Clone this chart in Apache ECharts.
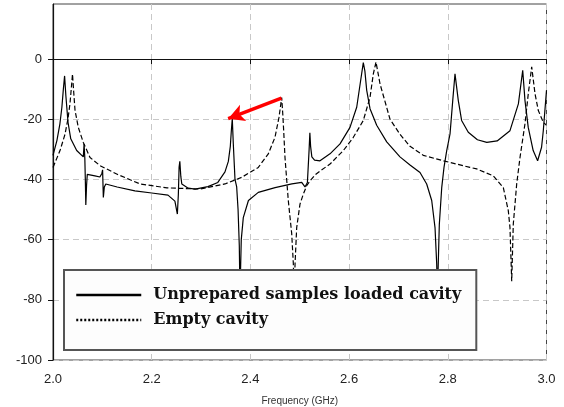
<!DOCTYPE html>
<html>
<head>
<meta charset="utf-8">
<script src="https://cdn.jsdelivr.net/npm/echarts@6/dist/echarts.min.js"></script>
<style>
  html, body { margin: 0; padding: 0; background: #fff; }
  #chart { width: 564px; height: 407px; }
</style>
</head>
<body>
<div id="chart"></div>
<script>
// frequency (GHz), transmission (dB)
var loadedCavity = [
  [2.000, -32], [2.008, -27], [2.014, -21.5], [2.018, -16], [2.021, -10], [2.0235, -5.6],
  [2.026, -12], [2.0304, -21], [2.036, -26.5], [2.048, -30.4], [2.0614, -32.5],
  [2.063, -28.2], [2.0645, -33], [2.0655, -40], [2.0665, -48.5], [2.068, -42], [2.0695, -38.3],
  [2.085, -38.8], [2.095, -39.2], [2.099, -38], [2.1005, -36.8], [2.102, -46], [2.104, -42.5],
  [2.107, -41.5], [2.13, -42.5], [2.166, -43.8], [2.2, -44.5], [2.233, -45.2], [2.247, -47.2],
  [2.252, -51.5], [2.254, -45], [2.2555, -36], [2.257, -34], [2.259, -39], [2.261, -41.5],
  [2.274, -42.9], [2.288, -43.2], [2.314, -42.4], [2.334, -41], [2.3485, -37.5], [2.3553, -34],
  [2.3593, -29], [2.3613, -24], [2.3633, -19.8], [2.3653, -28], [2.3688, -40], [2.3722, -42.5],
  [2.375, -50], [2.3775, -62], [2.3789, -78], [2.3815, -60], [2.3856, -52.7], [2.396, -47],
  [2.416, -44.3], [2.45, -42.7], [2.484, -41.5], [2.504, -41], [2.5106, -42.5], [2.5155, -41],
  [2.519, -30], [2.5205, -24.5], [2.522, -29], [2.5245, -32.5], [2.53, -33.6], [2.541, -33.8],
  [2.5613, -31.5], [2.5816, -28.2], [2.6018, -22.7], [2.6154, -16], [2.6255, -4.8], [2.6288, -1.2],
  [2.632, -4], [2.6357, -10.4], [2.6424, -16.5], [2.6559, -22], [2.6762, -27.5], [2.7031, -32.5],
  [2.7234, -35.2], [2.7437, -37.7], [2.7572, -41.5], [2.7674, -47], [2.7741, -56], [2.7775, -68],
  [2.779, -78], [2.7828, -55], [2.7877, -42.7], [2.7923, -36], [2.7978, -30.4], [2.8045, -24.9],
  [2.81, -13.8], [2.8146, -4.9], [2.8213, -13.8], [2.828, -20.4], [2.8415, -24.3], [2.86, -26.8],
  [2.879, -27.7], [2.90, -27.2], [2.926, -23.8], [2.943, -14.9], [2.9518, -3.7], [2.9564, -13.8],
  [2.963, -22.7], [2.973, -30.4], [2.982, -33.8], [2.990, -29.3], [2.9935, -23.8], [3.0, -10.4]
];

var emptyCavity = [
  [2.000, -36], [2.0142, -30.4], [2.0243, -25], [2.0304, -19.8], [2.0344, -14.8], [2.0375, -9],
  [2.0395, -5], [2.042, -11], [2.0446, -17], [2.0513, -22.7], [2.0614, -27.7], [2.075, -32.7],
  [2.0952, -35.4], [2.1291, -38.2], [2.1763, -41.5], [2.231, -42.8], [2.2979, -43.2],
  [2.3485, -41.5], [2.3824, -39.3], [2.416, -36], [2.4363, -31.5], [2.4498, -26], [2.458, -19.3],
  [2.4634, -12.8], [2.4655, -18], [2.4675, -24], [2.4701, -32.7], [2.4735, -40], [2.4768, -47],
  [2.4837, -58], [2.487, -68], [2.4885, -78], [2.4905, -68], [2.4938, -56], [2.5005, -48.2],
  [2.5072, -44.9], [2.514, -42.1], [2.5208, -40.5], [2.531, -38.5], [2.541, -37.2],
  [2.5613, -34.9], [2.5883, -30.4], [2.6086, -26], [2.6288, -20.4], [2.6424, -12.7],
  [2.6491, -4.9], [2.6545, -1.0], [2.6626, -8.2], [2.6829, -20], [2.7031, -25], [2.7234, -29],
  [2.7504, -32], [2.791, -33.8], [2.818, -34.9], [2.845, -36], [2.8586, -36.5], [2.8922, -38.8],
  [2.9125, -42.7], [2.9226, -50.4], [2.926, -56], [2.9295, -73.8], [2.9327, -54.9],
  [2.9396, -41.5], [2.9463, -32.7], [2.9564, -21.5], [2.9631, -11.5], [2.97, -2.6],
  [2.9767, -11.5], [2.9834, -17.1], [2.9935, -21], [3.0, -22]
];

var seriesNames = ['Unprepared samples loaded cavity', 'Empty cavity'];
var yTicks = [-100, -80, -60, -40, -20, 0];
var arrowFrom = [2.463, -13];
var arrowTo = [2.355, -19.8];

var chart = echarts.init(document.getElementById('chart'));

var axisFont = { fontFamily: 'Liberation Sans', fontSize: 13, color: '#222' };

var option = {
  animation: false,
  backgroundColor: '#fff',
  grid: {
    left: 53, right: 17.5, top: 4, bottom: 47,
    outerBoundsMode: 'none',
    containLabel: false,
    show: true, borderColor: '#444', borderWidth: 1
  },
  xAxis: {
    type: 'value',
    min: 2.0, max: 3.0, interval: 0.2,
    name: 'Frequency (GHz)',
    nameLocation: 'middle',
    nameGap: 36,
    nameTextStyle: { fontFamily: 'Liberation Sans', fontSize: 10, color: '#333' },
    axisLine: { lineStyle: { color: '#111', width: 1.2 } },
    axisTick: { show: true, length: 5, lineStyle: { color: '#111' } },
    axisLabel: Object.assign({ margin: 13, formatter: function (v) { return v.toFixed(1); } }, axisFont),
    splitLine: { show: true, lineStyle: { color: '#c8c8c8', type: [6, 4], width: 1 } }
  },
  yAxis: {
    type: 'value',
    min: -100, max: 18.3, interval: 20,
    axisLine: { show: true, lineStyle: { color: '#111', width: 1.2 } },
    axisTick: { show: true, length: 5, customValues: yTicks, lineStyle: { color: '#111' } },
    axisLabel: Object.assign({ margin: 11, customValues: yTicks }, axisFont),
    splitLine: { show: true, lineStyle: { color: '#c8c8c8', type: [6, 4], width: 1 } }
  },
  legend: {
    orient: 'vertical',
    left: 64, top: 270,
    padding: [17, 15, 22, 11],
    itemWidth: 65, itemHeight: 14, itemGap: 9,
    backgroundColor: '#fdfdfd',
    borderColor: '#555', borderWidth: 2,
    selectedMode: false,
    textStyle: {
      fontFamily: 'DejaVu Serif', fontWeight: 'bold', fontSize: 16,
      color: '#111', lineHeight: 14, padding: [0, 0, 0, 7]
    },
    data: [
      { name: seriesNames[0], itemStyle: { opacity: 0 }, lineStyle: { width: 2.5, type: 'solid', color: '#000' } },
      { name: seriesNames[1], itemStyle: { opacity: 0 }, lineStyle: { width: 2.5, type: [2, 2], color: '#000' } }
    ]
  },
  series: [
    {
      name: seriesNames[0],
      type: 'line',
      data: loadedCavity,
      symbol: 'none',
      z: 3,
      lineStyle: { color: '#000', width: 1.2, type: 'solid' },
      itemStyle: { color: '#000' },
      markLine: {
        silent: true,
        symbol: ['none', 'arrow'],
        symbolSize: [13, 16],
        label: { show: false },
        lineStyle: { color: '#ff0000', width: 3.5, type: 'solid' },
        itemStyle: { color: '#ff0000' },
        data: [[{ coord: arrowFrom }, { coord: arrowTo }]]
      }
    },
    {
      name: seriesNames[1],
      type: 'line',
      data: emptyCavity,
      symbol: 'none',
      z: 3,
      lineStyle: { color: '#000', width: 1.2, type: [5, 2.5] },
      itemStyle: { color: '#000' }
    }
  ]
};

chart.setOption(option);
</script>
</body>
</html>
